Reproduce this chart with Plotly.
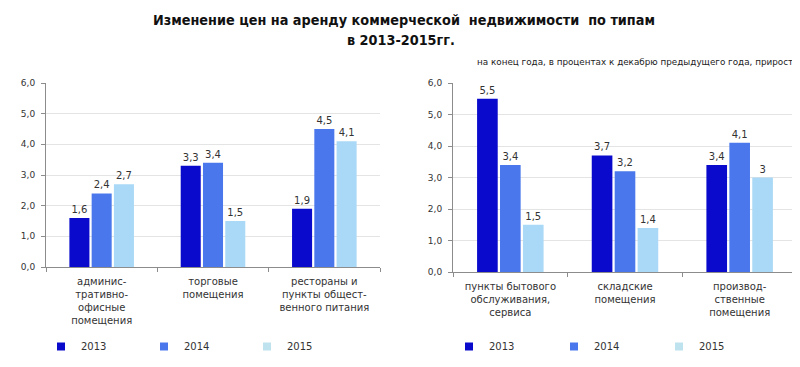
import plotly.graph_objects as go

years = ["2013", "2014", "2015"]
colors = ["#0a0acc", "#4a78ec", "#a9d9f6"]
legend_colors = ["#0a0acc", "#4a78ec", "#bfe3ee"]

left_categories = ["админис-<br>тративно-<br>офисные<br>помещения",
                   "торговые<br>помещения",
                   "рестораны и<br>пункты общест-<br>венного питания"]
left_values = {
    "2013": [1.6, 3.3, 1.9],
    "2014": [2.4, 3.4, 4.5],
    "2015": [2.7, 1.5, 4.1],
}
left_labels = {
    "2013": ["1,6", "3,3", "1,9"],
    "2014": ["2,4", "3,4", "4,5"],
    "2015": ["2,7", "1,5", "4,1"],
}

right_categories = ["пункты бытового<br>обслуживания,<br>сервиса",
                    "складские<br>помещения",
                    "производ-<br>ственные<br>помещения"]
right_values = {
    "2013": [5.5, 3.7, 3.4],
    "2014": [3.4, 3.2, 4.1],
    "2015": [1.5, 1.4, 3.0],
}
right_labels = {
    "2013": ["5,5", "3,7", "3,4"],
    "2014": ["3,4", "3,2", "4,1"],
    "2015": ["1,5", "1,4", "3"],
}

y_ticks = [0, 1, 2, 3, 4, 5, 6]
y_ticktext = ["0,0", "1,0", "2,0", "3,0", "4,0", "5,0", "6,0"]

title_line1 = "Изменение цен на аренду коммерческой  недвижимости  по типам"
title_line2 = "в 2013-2015гг."
subtitle_text = "на конец года, в процентах к декабрю предыдущего года, прирост"

FONT = "DejaVu Sans"
TITLE_FONT = "Liberation Sans Narrow, DejaVu Sans Condensed, Arial Narrow, sans-serif"
W, H = 800, 367

fig = go.Figure()

def add_panel(categories, values, labels, xa, ya, leg):
    for i, y in enumerate(years):
        fig.add_trace(go.Bar(
            x=categories, y=values[y], name=y, showlegend=False,
            marker=dict(color=colors[i], line=dict(width=0)),
            text=labels[y], textposition="outside", cliponaxis=False,
            textfont=dict(family=FONT, size=10, color="#333333"),
            xaxis=xa, yaxis=ya,
        ))
    # legend-only entries (small square swatches)
    for i, y in enumerate(years):
        fig.add_trace(go.Scatter(
            x=[None], y=[None], name=y, mode="markers",
            marker=dict(symbol="square", size=8, color=legend_colors[i]),
            xaxis=xa, yaxis=ya, legend=leg, showlegend=True,
        ))

add_panel(left_categories, left_values, left_labels, "x", "y", "legend")
add_panel(right_categories, right_values, right_labels, "x2", "y2", "legend2")

def xaxis_style(domain, anchor):
    return dict(
        domain=domain, anchor=anchor, type="category",
        showline=True, linecolor="#8c8c8c", linewidth=1,
        ticks="outside", tickson="boundaries", ticklen=4, tickcolor="#8c8c8c",
        tickfont=dict(family=FONT, size=10, color="#333333"),
        tickangle=0,
        ticklabelstandoff=5, showgrid=False, fixedrange=True,
    )

def yaxis_style(domain, anchor):
    return dict(
        domain=domain, anchor=anchor, range=[0, 6],
        tickvals=y_ticks, ticktext=y_ticktext,
        showline=True, linecolor="#8c8c8c", linewidth=1,
        ticks="outside", ticklen=4, tickcolor="#8c8c8c",
        showgrid=True, gridcolor="#e4e4e4", gridwidth=1,
        zeroline=False,
        tickfont=dict(family=FONT, size=9, color="#333333"),
        ticklabelstandoff=4, fixedrange=True,
    )

legend_common = dict(orientation="h", xanchor="left", yanchor="top",
                     entrywidthmode="pixels", itemwidth=30,
                     font=dict(family=FONT, size=10, color="#333333"),
                     bgcolor="rgba(0,0,0,0)", traceorder="normal")

fig.update_layout(
    width=W, height=H,
    margin=dict(l=0, r=0, t=0, b=0, autoexpand=False),
    paper_bgcolor="white", plot_bgcolor="white",
    barmode="group", bargap=0.4, bargroupgap=0.1,
    separators=", ",
    xaxis=xaxis_style([38 / W, 372 / W], "y"),
    yaxis=yaxis_style([(H - 259) / H, (H - 75) / H], "x"),
    xaxis2=xaxis_style([445 / W, 789 / W], "y2"),
    yaxis2=yaxis_style([(H - 264) / H, (H - 75) / H], "x2"),
    legend=dict(x=33 / W, y=(H - 324) / H, entrywidth=58, **legend_common),
    legend2=dict(x=441 / W, y=(H - 324) / H, entrywidth=60, **legend_common),
    annotations=[
        dict(text="<b>" + title_line1 + "</b>", x=396 / W, y=1 - 12 / H, xref="paper", yref="paper",
             xanchor="center", yanchor="middle", showarrow=False,
             font=dict(family=TITLE_FONT, size=14.3, color="#111111")),
        dict(text="<b>" + title_line2 + "</b>", x=393 / W, y=1 - 32 / H, xref="paper", yref="paper",
             xanchor="center", yanchor="middle", showarrow=False,
             font=dict(family=TITLE_FONT, size=14.3, color="#111111")),
        dict(text=subtitle_text, x=787 / W, y=1 - 54 / H, xref="paper", yref="paper",
             xanchor="right", yanchor="middle", showarrow=False,
             font=dict(family=FONT, size=8.8, color="#222222")),
    ],
)

fig.write_html("out.html")
